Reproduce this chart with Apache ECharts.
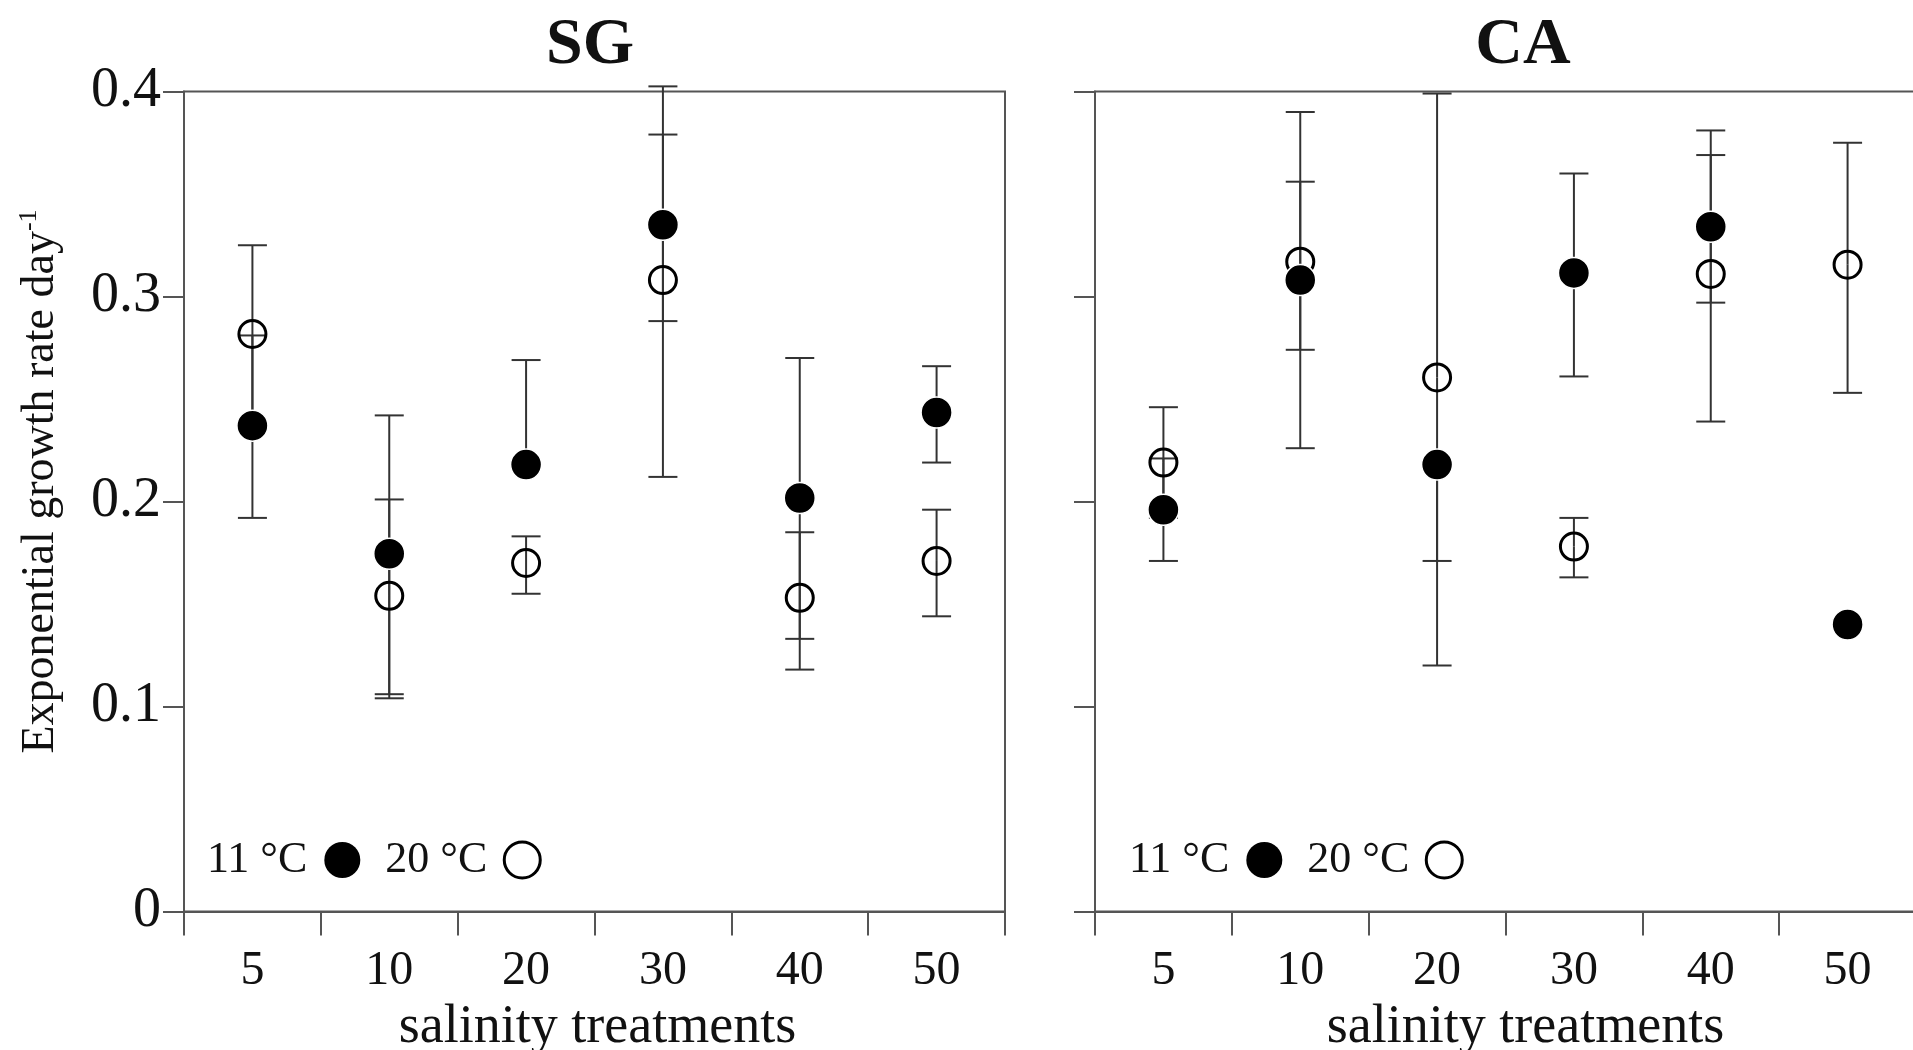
<!DOCTYPE html>
<html>
<head>
<meta charset="utf-8">
<script src="https://cdn.jsdelivr.net/npm/echarts@6/dist/echarts.min.js"></script>
<style>html,body{margin:0;padding:0;background:#fff}#c{width:1913px;height:1050px}</style>
</head>
<body>
<div id="c"></div>
<script>
// ---- data ----
const categories = ['5', '10', '20', '30', '40', '50'];
const panelTitles = ['SG', 'CA'];
const seriesNames = ['11 °C', '20 °C'];

// SG panel (null = whisker not visible in the reference)
const sg11 = [0.237, 0.1745, 0.218, 0.335, 0.2017, 0.2434];
const sg11Low = [0.192, 0.106, null, 0.288, 0.133, 0.219];
const sg11High = [0.281, 0.242, 0.269, 0.379, 0.270, 0.266];
const sg20 = [0.2817, 0.154, 0.170, 0.308, 0.153, 0.171];
const sg20Low = [0.238, 0.104, 0.155, 0.212, 0.118, 0.144];
const sg20High = [0.325, 0.201, 0.183, 0.4025, 0.185, 0.196];

// CA panel
const ca11 = [0.196, 0.308, 0.218, 0.3115, 0.334, 0.140];
const ca11Low = [0.171, 0.226, 0.171, 0.261, 0.297, null];
const ca11High = [0.221, 0.390, null, 0.360, 0.369, null];
const ca20 = [0.219, 0.317, 0.2605, 0.178, 0.311, 0.3155];
const ca20Low = [0.192, 0.274, 0.120, 0.163, 0.239, 0.253];
const ca20High = [0.246, 0.356, 0.399, 0.192, 0.381, 0.375];

const yMin = 0, yMax = 0.4, yStep = 0.1;

// ---- styling ----
const FONT = 'Liberation Serif';
const AX = '#555';
const TXT = '#111';

// each item: [categoryIndex, mean, whiskerEnd]
function errData(mean, lo, hi) {
  const out = [];
  categories.forEach((c, i) => {
    if (mean[i] == null) return;
    if (lo[i] != null) out.push([i, mean[i], lo[i]]);
    if (hi[i] != null) out.push([i, mean[i], hi[i]]);
  });
  return out;
}
function errRender(params, api) {
  const x = api.value(0);
  const m = api.coord([x, api.value(1)]);
  const e = api.coord([x, api.value(2)]);
  const half = 14.5;
  const style = { stroke: '#333', lineWidth: 2, fill: null };
  return {
    type: 'group',
    children: [
      { type: 'line', shape: { x1: m[0], y1: m[1], x2: e[0], y2: e[1] }, style },
      { type: 'line', shape: { x1: e[0] - half, y1: e[1], x2: e[0] + half, y2: e[1] }, style }
    ]
  };
}

function xAxisFor(gi, namePad) {
  return {
    gridIndex: gi, type: 'category', data: categories, boundaryGap: true,
    axisLine: { show: true, lineStyle: { color: AX, width: 2 } },
    axisTick: { show: true, length: 24, alignWithLabel: false, lineStyle: { color: AX, width: 2 } },
    axisLabel: { show: true, margin: 36, fontFamily: FONT, fontSize: 48, color: TXT },
    splitLine: { show: false },
    name: 'salinity treatments', nameLocation: 'middle', nameGap: 88,
    nameTextStyle: { fontFamily: FONT, fontSize: 54, color: TXT, padding: namePad }
  };
}
function yAxisFor(gi, showLabels) {
  const ax = {
    gridIndex: gi, type: 'value', min: yMin, max: yMax, interval: yStep,
    axisLine: { show: true, lineStyle: { color: AX, width: 2 } },
    axisTick: { show: true, length: 21, lineStyle: { color: AX, width: 2 } },
    axisLabel: { show: showLabels, margin: 23, fontFamily: FONT, fontSize: 56, color: TXT,
      formatter: v => (v === 0 ? '0' : v.toFixed(1)) },
    splitLine: { show: false }
  };
  if (showLabels) {
    ax.name = '{a|Exponential growth rate day}{s|-1}';
    ax.nameLocation = 'middle';
    ax.nameGap = 118;
    ax.nameTextStyle = {
      padding: [0, 0, 0, 40],
      rich: {
        a: { fontFamily: FONT, fontSize: 46, color: TXT, lineHeight: 50 },
        s: { fontFamily: FONT, fontSize: 26, color: TXT, lineHeight: 26, verticalAlign: 'top' }
      }
    };
  }
  return ax;
}
function legendFor(left) {
  return {
    left: left, top: 838, orient: 'horizontal', align: 'right', padding: 0,
    itemWidth: 36, itemHeight: 36, itemGap: 25, selectedMode: false,
    textStyle: { fontFamily: FONT, fontSize: 44, color: TXT, padding: [0, 12, 0, 0] },
    data: [
      { name: seriesNames[0], icon: 'circle', itemStyle: { color: '#000', borderWidth: 0 } },
      { name: seriesNames[1], icon: 'circle', itemStyle: { color: '#fff', borderColor: '#000', borderWidth: 3 } }
    ]
  };
}
function panelSeries(gi, v11, lo11, hi11, v20, lo20, hi20) {
  return [
    { type: 'custom', name: 'err11_' + gi, xAxisIndex: gi, yAxisIndex: gi, renderItem: errRender,
      data: errData(v11, lo11, hi11), encode: { x: 0, y: [1, 2] }, z: 1, silent: true },
    { type: 'custom', name: 'err20_' + gi, xAxisIndex: gi, yAxisIndex: gi, renderItem: errRender,
      data: errData(v20, lo20, hi20), encode: { x: 0, y: [1, 2] }, z: 1, silent: true },
    { type: 'scatter', name: seriesNames[1], xAxisIndex: gi, yAxisIndex: gi, data: v20,
      symbol: 'circle', symbolSize: 27,
      itemStyle: { color: 'rgba(255,255,255,0)', borderColor: '#000', borderWidth: 3, opacity: 1 },
      emphasis: { disabled: true }, z: 3 },
    { type: 'scatter', name: seriesNames[0], xAxisIndex: gi, yAxisIndex: gi, data: v11,
      symbol: 'circle', symbolSize: 31,
      itemStyle: { color: '#000', borderColor: '#fff', borderWidth: 1.5, opacity: 1 },
      emphasis: { disabled: true }, z: 4 }
  ];
}

const option = {
  animation: false,
  backgroundColor: '#fff',
  title: [
    { text: panelTitles[0], left: 590, top: 13, textAlign: 'center', padding: 0,
      textStyle: { fontFamily: FONT, fontWeight: 'bold', fontSize: 66, color: TXT } },
    { text: panelTitles[1], left: 1523, top: 13, textAlign: 'center', padding: 0,
      textStyle: { fontFamily: FONT, fontWeight: 'bold', fontSize: 66, color: TXT } }
  ],
  legend: [legendFor(207), legendFor(1129)],
  grid: [
    { left: 184, top: 91.5, width: 821, height: 820, show: true, borderColor: AX, borderWidth: 2,
      backgroundColor: 'transparent', containLabel: false, outerBoundsMode: 'none' },
    { left: 1095, top: 91.5, width: 821, height: 820, show: true, borderColor: AX, borderWidth: 2,
      backgroundColor: 'transparent', containLabel: false, outerBoundsMode: 'none' }
  ],
  xAxis: [xAxisFor(0, [0, 0, 0, 6]), xAxisFor(1, [0, 0, 0, 40])],
  yAxis: [yAxisFor(0, true), yAxisFor(1, false)],
  series: [
    ...panelSeries(0, sg11, sg11Low, sg11High, sg20, sg20Low, sg20High),
    ...panelSeries(1, ca11, ca11Low, ca11High, ca20, ca20Low, ca20High)
  ]
};

const chart = echarts.init(document.getElementById('c'), null, { renderer: 'canvas' });
chart.setOption(option);
</script>
</body>
</html>
